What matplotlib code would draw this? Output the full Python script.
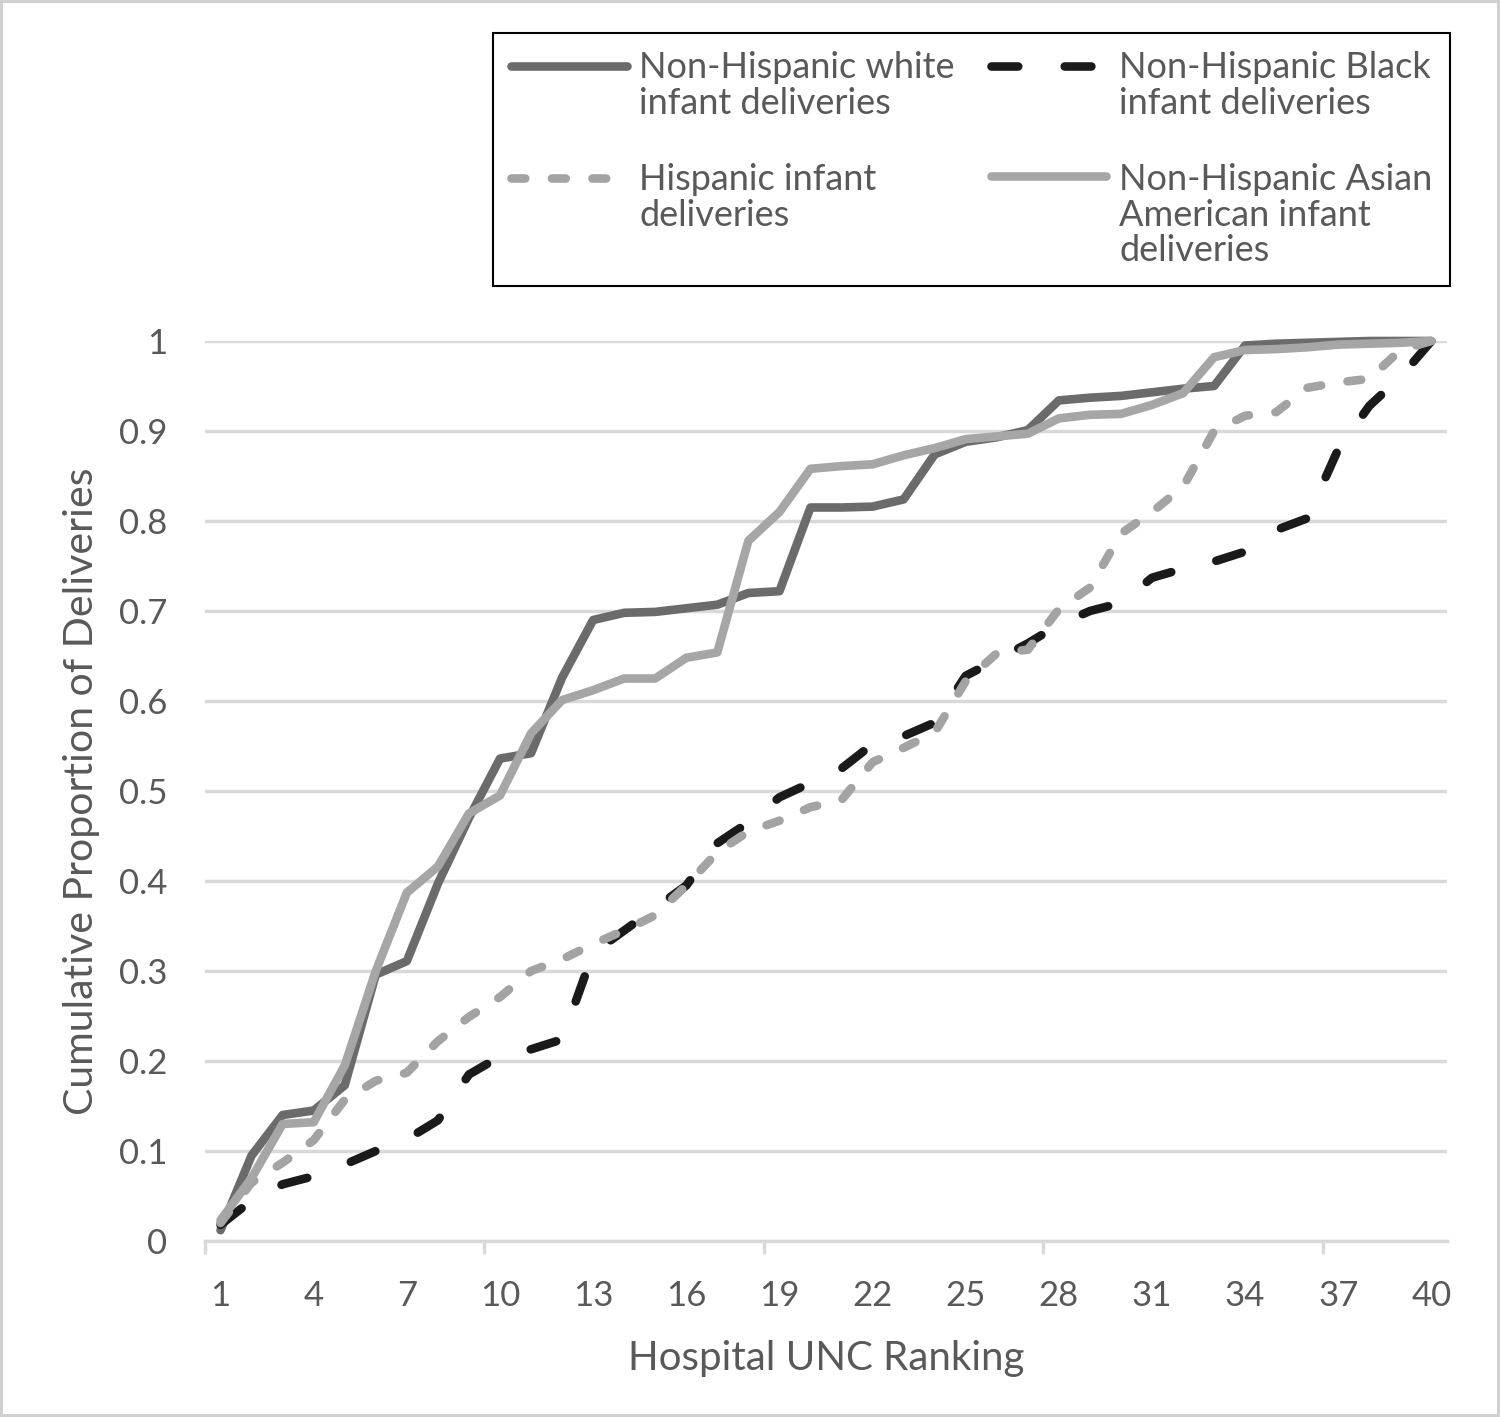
import matplotlib
matplotlib.use("Agg")
import matplotlib.pyplot as plt
from matplotlib.legend_handler import HandlerLine2D
import numpy as np

plt.rcParams['font.family'] = ['Lato', 'DejaVu Sans']

ranking = list(range(1, 41))
tick_labels = [str(v) for v in range(1, 41, 3)]

white = [0.012, 0.095, 0.14, 0.145, 0.173, 0.296, 0.311, 0.397, 0.47, 0.536,
         0.542, 0.626, 0.69, 0.698, 0.699, 0.703, 0.707, 0.72, 0.722, 0.815,
         0.815, 0.816, 0.824, 0.874, 0.888, 0.893, 0.901, 0.934, 0.937, 0.939,
         0.943, 0.947, 0.95, 0.995, 0.997, 0.998, 0.999, 1.0, 1.0, 1.0]
black = [0.018, 0.045, 0.063, 0.072, 0.085, 0.1, 0.113, 0.134, 0.185, 0.205,
         0.213, 0.224, 0.32, 0.345, 0.37, 0.395, 0.442, 0.465, 0.493, 0.509,
         0.525, 0.552, 0.561, 0.576, 0.628, 0.646, 0.664, 0.685, 0.7, 0.709,
         0.737, 0.747, 0.755, 0.766, 0.79, 0.803, 0.88, 0.928, 0.96, 1.0]
hispanic = [0.02, 0.065, 0.087, 0.112, 0.157, 0.178, 0.187, 0.222, 0.249, 0.271,
            0.3, 0.313, 0.33, 0.345, 0.362, 0.395, 0.432, 0.455, 0.467, 0.482,
            0.49, 0.532, 0.548, 0.565, 0.622, 0.653, 0.657, 0.702, 0.726, 0.786,
            0.81, 0.838, 0.9, 0.917, 0.921, 0.948, 0.954, 0.958, 0.99, 1.0]
asian = [0.023, 0.07, 0.13, 0.132, 0.195, 0.3, 0.387, 0.416, 0.475, 0.495,
         0.564, 0.601, 0.612, 0.625, 0.625, 0.648, 0.654, 0.778, 0.81, 0.858,
         0.861, 0.863, 0.873, 0.881, 0.891, 0.894, 0.897, 0.914, 0.918, 0.919,
         0.929, 0.942, 0.982, 0.99, 0.991, 0.993, 0.996, 0.997, 0.998, 1.0]

labels = ["Non-Hispanic white\ninfant deliveries",
          "Non-Hispanic Black\ninfant deliveries",
          "Hispanic infant\ndeliveries",
          "Non-Hispanic Asian\nAmerican infant\ndeliveries"]

TXT = '#595959'
GRID = '#d9d9d9'
LW = 6.2
FS_LEG = 26
LSP = 1.1


class TopAlignedLine(HandlerLine2D):
    """Place the legend line next to the first text line of a multi-line label."""
    def __init__(self, nlines, **kw):
        super().__init__(**kw)
        self.nlines = nlines

    def create_artists(self, legend, orig_handle, xdescent, ydescent,
                       width, height, fontsize, trans):
        shift = (self.nlines - 1) * 0.5 * LSP * fontsize
        return super().create_artists(legend, orig_handle, xdescent, ydescent,
                                      width, height + 2 * shift, fontsize, trans)


fig = plt.figure(figsize=(15, 14.17), dpi=100)
fig.patch.set_facecolor('white')
fig.patch.set_edgecolor('#d0d0d0')
fig.patch.set_linewidth(3)

ax = fig.add_axes([205/1500, 1 - 1241/1417, 1242/1500, 900/1417])

kw = dict(linewidth=LW, solid_capstyle='round', dash_capstyle='round',
          solid_joinstyle='round', clip_on=False)
l_white, = ax.plot(ranking, white, color='#6b6b6b', zorder=3, **kw)
l_black, = ax.plot(ranking, black, color='#1a1a1a', dashes=(3.1, 5.4), zorder=4, **kw)
l_hisp, = ax.plot(ranking, hispanic, color='#a3a3a3', dashes=(1.6, 3.1), zorder=5, **kw)
l_asian, = ax.plot(ranking, asian, color='#a6a6a6', zorder=6, **kw)

ax.set_xlim(0.5, 40.5)
ax.set_ylim(0, 1)
ax.set_yticks(np.arange(0, 1.01, 0.1))
ax.set_yticklabels(['0', '0.1', '0.2', '0.3', '0.4', '0.5', '0.6', '0.7', '0.8', '0.9', '1'])
ax.set_xticks(range(1, 41, 3))
ax.set_xticklabels(tick_labels)
ax.set_xticks([0.5, 9.5, 18.5, 27.5, 36.5], minor=True)
ax.grid(axis='y', color=GRID, linewidth=2.5, zorder=0)
ax.set_axisbelow(True)
for s in ['top', 'right', 'left']:
    ax.spines[s].set_visible(False)
ax.spines['bottom'].set_color(GRID)
ax.spines['bottom'].set_linewidth(2.5)
ax.tick_params(axis='y', length=0, pad=27, labelsize=25, labelcolor=TXT)
ax.tick_params(axis='x', which='major', length=0, pad=28, labelsize=25, labelcolor=TXT)
ax.tick_params(axis='x', which='minor', length=9, width=2.5, color=GRID)

ax.set_xlabel("Hospital UNC Ranking", fontsize=29, color=TXT, labelpad=20)
ax.set_ylabel("Cumulative Proportion of Deliveries", fontsize=29.5, color=TXT, labelpad=14)

handles = [l_white, l_hisp, l_black, l_asian]
hlabels = [labels[0], labels[2], labels[1], labels[3]]
hmap = {h: TopAlignedLine(lab.count('\n') + 1) for h, lab in zip(handles, hlabels)}
leg = fig.legend(handles, hlabels, ncol=2, loc='upper left',
                 bbox_to_anchor=(493/1500, 1 - 33/1417),
                 handler_map=hmap,
                 fontsize=FS_LEG, labelcolor=TXT, frameon=True, fancybox=False,
                 edgecolor='black', framealpha=1, handlelength=3.2,
                 handletextpad=0.35, columnspacing=1.0, labelspacing=1.2,
                 borderpad=0.5, borderaxespad=0)
for t in leg.get_texts():
    t.set_linespacing(LSP)
leg.get_frame().set_linewidth(1.5)

fig.savefig("out.png", dpi=100)
